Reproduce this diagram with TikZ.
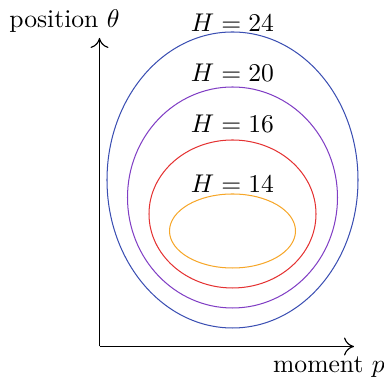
\documentclass[tikz,border=0pt]{standalone}
\usetikzlibrary{arrows.meta}
\begin{document}
\begin{tikzpicture}[x=0.390625pt,y=-0.390625pt,
  curve/.style={line width=0.4pt},
  axis/.style={line width=0.45pt,-{To[length=3.9pt,width=7pt]}},
  lbl/.style={anchor=base,inner sep=0pt}]
\useasboundingbox (0,0) rectangle (384,378);
\definecolor{cblue}{RGB}{58,78,178}
\definecolor{cpurple}{RGB}{128,62,196}
\definecolor{cred}{RGB}{228,50,50}
\definecolor{corange}{RGB}{246,166,40}
\coordinate (O) at (99.5,346.5);
\coordinate (Ytop) at (99.5,38);
\coordinate (Xend) at (354,346.5);
\draw[axis] (O) -- (Ytop);
\draw[axis] (O) -- (Xend);
\node[lbl] (ylab) at (64.5,27.5) {position $\theta$};
\node[lbl] (xlab) at (329,373) {moment $p$};
\draw[curve,cblue] (232.5,180) ellipse [x radius=125.5, y radius=148];
\draw[curve,cpurple] (232.5,197.5) ellipse [x radius=105, y radius=110.5];
\draw[curve,cred] (232.5,214) ellipse [x radius=83.5, y radius=74];
\draw[curve,corange] (232.5,231) ellipse [x radius=63, y radius=37];
\node[lbl] (h24) at (232.5,31.5) {$H=24$};
\node[lbl] (h20) at (232.5,82) {$H=20$};
\node[lbl] (h16) at (232.5,133) {$H=16$};
\node[lbl] (h14) at (232.5,193) {$H=14$};
\end{tikzpicture}
\end{document}
